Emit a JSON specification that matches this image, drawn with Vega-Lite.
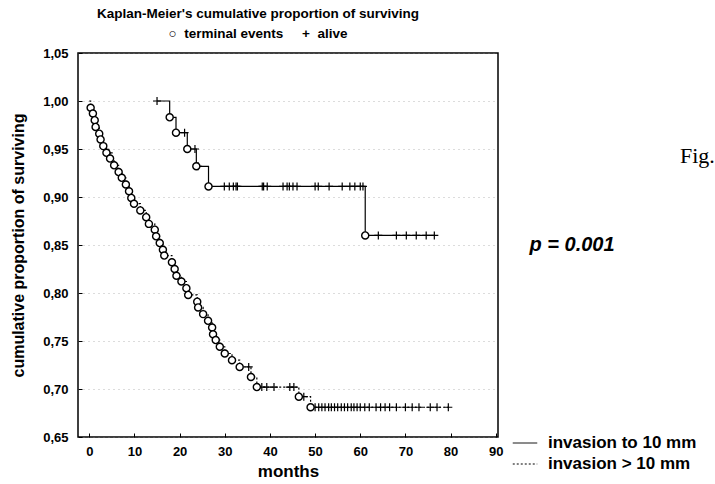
{
  "$schema": "https://vega.github.io/schema/vega-lite/v6.json",
  "width": 420,
  "height": 384,
  "autosize": {"type": "none"},
  "padding": {"left": 78, "top": 53, "right": 217, "bottom": 47},
  "background": "white",
  "config": {
    "view": {"stroke": "black", "strokeWidth": 1.5},
    "font": "Liberation Sans"
  },
  "title": {
    "text": "Kaplan-Meier's cumulative proportion of surviving",
    "subtitle": "\u25cb\u00a0 terminal events\u00a0\u00a0\u00a0\u00a0\u00a0+\u00a0 alive",
    "anchor": "middle",
    "dx": -30,
    "fontSize": 13.5,
    "fontWeight": "bold",
    "subtitleFontSize": 13.5,
    "subtitleFontWeight": "bold",
    "subtitlePadding": 6,
    "offset": 7,
    "color": "black",
    "subtitleColor": "black",
    "font": "Liberation Sans",
    "subtitleFont": "Liberation Sans"
  },
  "datasets": {
    "km": [
      {"group": "invasion to 10 mm", "month": 15.0, "surv": 1.0, "kind": "censored"},
      {"group": "invasion to 10 mm", "month": 17.8, "surv": 0.983, "kind": "event"},
      {"group": "invasion to 10 mm", "month": 19.2, "surv": 0.967, "kind": "event"},
      {"group": "invasion to 10 mm", "month": 21.1, "surv": 0.967, "kind": "censored"},
      {"group": "invasion to 10 mm", "month": 21.7, "surv": 0.95, "kind": "event"},
      {"group": "invasion to 10 mm", "month": 23.4, "surv": 0.95, "kind": "censored"},
      {"group": "invasion to 10 mm", "month": 23.7, "surv": 0.932, "kind": "event"},
      {"group": "invasion to 10 mm", "month": 24.1, "surv": 0.932, "kind": "censored"},
      {"group": "invasion to 10 mm", "month": 26.4, "surv": 0.911, "kind": "event"},
      {"group": "invasion to 10 mm", "month": 29.9, "surv": 0.911, "kind": "censored"},
      {"group": "invasion to 10 mm", "month": 31.0, "surv": 0.911, "kind": "censored"},
      {"group": "invasion to 10 mm", "month": 31.9, "surv": 0.911, "kind": "censored"},
      {"group": "invasion to 10 mm", "month": 32.5, "surv": 0.911, "kind": "censored"},
      {"group": "invasion to 10 mm", "month": 32.8, "surv": 0.911, "kind": "censored"},
      {"group": "invasion to 10 mm", "month": 38.3, "surv": 0.911, "kind": "censored"},
      {"group": "invasion to 10 mm", "month": 38.6, "surv": 0.911, "kind": "censored"},
      {"group": "invasion to 10 mm", "month": 39.4, "surv": 0.911, "kind": "censored"},
      {"group": "invasion to 10 mm", "month": 42.9, "surv": 0.911, "kind": "censored"},
      {"group": "invasion to 10 mm", "month": 43.8, "surv": 0.911, "kind": "censored"},
      {"group": "invasion to 10 mm", "month": 44.3, "surv": 0.911, "kind": "censored"},
      {"group": "invasion to 10 mm", "month": 45.1, "surv": 0.911, "kind": "censored"},
      {"group": "invasion to 10 mm", "month": 46.0, "surv": 0.911, "kind": "censored"},
      {"group": "invasion to 10 mm", "month": 50.0, "surv": 0.911, "kind": "censored"},
      {"group": "invasion to 10 mm", "month": 50.7, "surv": 0.911, "kind": "censored"},
      {"group": "invasion to 10 mm", "month": 53.1, "surv": 0.911, "kind": "censored"},
      {"group": "invasion to 10 mm", "month": 56.0, "surv": 0.911, "kind": "censored"},
      {"group": "invasion to 10 mm", "month": 57.7, "surv": 0.911, "kind": "censored"},
      {"group": "invasion to 10 mm", "month": 58.8, "surv": 0.911, "kind": "censored"},
      {"group": "invasion to 10 mm", "month": 60.0, "surv": 0.911, "kind": "censored"},
      {"group": "invasion to 10 mm", "month": 60.6, "surv": 0.911, "kind": "censored"},
      {"group": "invasion to 10 mm", "month": 61.1, "surv": 0.86, "kind": "event"},
      {"group": "invasion to 10 mm", "month": 64.0, "surv": 0.86, "kind": "censored"},
      {"group": "invasion to 10 mm", "month": 68.0, "surv": 0.86, "kind": "censored"},
      {"group": "invasion to 10 mm", "month": 70.2, "surv": 0.86, "kind": "censored"},
      {"group": "invasion to 10 mm", "month": 72.4, "surv": 0.86, "kind": "censored"},
      {"group": "invasion to 10 mm", "month": 74.6, "surv": 0.86, "kind": "censored"},
      {"group": "invasion to 10 mm", "month": 76.4, "surv": 0.86, "kind": "censored"},

      {"group": "invasion > 10 mm", "month": 0.0, "surv": 1.0, "kind": "start"},
      {"group": "invasion > 10 mm", "month": 0.3, "surv": 0.993, "kind": "event"},
      {"group": "invasion > 10 mm", "month": 0.8, "surv": 0.987, "kind": "event"},
      {"group": "invasion > 10 mm", "month": 1.2, "surv": 0.98, "kind": "event"},
      {"group": "invasion > 10 mm", "month": 1.4, "surv": 0.973, "kind": "event"},
      {"group": "invasion > 10 mm", "month": 2.2, "surv": 0.966, "kind": "event"},
      {"group": "invasion > 10 mm", "month": 2.5, "surv": 0.96, "kind": "event"},
      {"group": "invasion > 10 mm", "month": 3.1, "surv": 0.953, "kind": "event"},
      {"group": "invasion > 10 mm", "month": 3.8, "surv": 0.946, "kind": "event"},
      {"group": "invasion > 10 mm", "month": 4.3, "surv": 0.946, "kind": "censored"},
      {"group": "invasion > 10 mm", "month": 4.6, "surv": 0.94, "kind": "event"},
      {"group": "invasion > 10 mm", "month": 5.5, "surv": 0.933, "kind": "event"},
      {"group": "invasion > 10 mm", "month": 6.5, "surv": 0.926, "kind": "event"},
      {"group": "invasion > 10 mm", "month": 7.2, "surv": 0.92, "kind": "event"},
      {"group": "invasion > 10 mm", "month": 8.1, "surv": 0.913, "kind": "event"},
      {"group": "invasion > 10 mm", "month": 8.8, "surv": 0.906, "kind": "event"},
      {"group": "invasion > 10 mm", "month": 9.3, "surv": 0.899, "kind": "event"},
      {"group": "invasion > 10 mm", "month": 9.9, "surv": 0.893, "kind": "event"},
      {"group": "invasion > 10 mm", "month": 11.3, "surv": 0.886, "kind": "event"},
      {"group": "invasion > 10 mm", "month": 12.6, "surv": 0.879, "kind": "event"},
      {"group": "invasion > 10 mm", "month": 13.2, "surv": 0.872, "kind": "event"},
      {"group": "invasion > 10 mm", "month": 14.5, "surv": 0.866, "kind": "event"},
      {"group": "invasion > 10 mm", "month": 14.8, "surv": 0.859, "kind": "event"},
      {"group": "invasion > 10 mm", "month": 15.6, "surv": 0.852, "kind": "event"},
      {"group": "invasion > 10 mm", "month": 16.3, "surv": 0.845, "kind": "event"},
      {"group": "invasion > 10 mm", "month": 16.6, "surv": 0.839, "kind": "event"},
      {"group": "invasion > 10 mm", "month": 18.3, "surv": 0.832, "kind": "event"},
      {"group": "invasion > 10 mm", "month": 18.9, "surv": 0.825, "kind": "event"},
      {"group": "invasion > 10 mm", "month": 19.3, "surv": 0.818, "kind": "event"},
      {"group": "invasion > 10 mm", "month": 20.4, "surv": 0.812, "kind": "event"},
      {"group": "invasion > 10 mm", "month": 21.5, "surv": 0.805, "kind": "event"},
      {"group": "invasion > 10 mm", "month": 21.9, "surv": 0.798, "kind": "event"},
      {"group": "invasion > 10 mm", "month": 23.9, "surv": 0.791, "kind": "event"},
      {"group": "invasion > 10 mm", "month": 24.1, "surv": 0.785, "kind": "event"},
      {"group": "invasion > 10 mm", "month": 25.2, "surv": 0.778, "kind": "event"},
      {"group": "invasion > 10 mm", "month": 26.3, "surv": 0.771, "kind": "event"},
      {"group": "invasion > 10 mm", "month": 27.2, "surv": 0.764, "kind": "event"},
      {"group": "invasion > 10 mm", "month": 27.4, "surv": 0.757, "kind": "event"},
      {"group": "invasion > 10 mm", "month": 28.0, "surv": 0.751, "kind": "event"},
      {"group": "invasion > 10 mm", "month": 28.9, "surv": 0.744, "kind": "event"},
      {"group": "invasion > 10 mm", "month": 30.0, "surv": 0.737, "kind": "event"},
      {"group": "invasion > 10 mm", "month": 31.6, "surv": 0.73, "kind": "event"},
      {"group": "invasion > 10 mm", "month": 33.3, "surv": 0.723, "kind": "event"},
      {"group": "invasion > 10 mm", "month": 35.3, "surv": 0.723, "kind": "censored"},
      {"group": "invasion > 10 mm", "month": 35.8, "surv": 0.7125, "kind": "event"},
      {"group": "invasion > 10 mm", "month": 37.1, "surv": 0.702, "kind": "event"},
      {"group": "invasion > 10 mm", "month": 38.2, "surv": 0.702, "kind": "censored"},
      {"group": "invasion > 10 mm", "month": 39.3, "surv": 0.702, "kind": "censored"},
      {"group": "invasion > 10 mm", "month": 40.9, "surv": 0.702, "kind": "censored"},
      {"group": "invasion > 10 mm", "month": 44.4, "surv": 0.702, "kind": "censored"},
      {"group": "invasion > 10 mm", "month": 45.3, "surv": 0.702, "kind": "censored"},
      {"group": "invasion > 10 mm", "month": 46.4, "surv": 0.692, "kind": "event"},
      {"group": "invasion > 10 mm", "month": 47.5, "surv": 0.692, "kind": "censored"},
      {"group": "invasion > 10 mm", "month": 49.0, "surv": 0.681, "kind": "event"},
      {"group": "invasion > 10 mm", "month": 50.0, "surv": 0.681, "kind": "censored"},
      {"group": "invasion > 10 mm", "month": 50.8, "surv": 0.681, "kind": "censored"},
      {"group": "invasion > 10 mm", "month": 51.5, "surv": 0.681, "kind": "censored"},
      {"group": "invasion > 10 mm", "month": 52.2, "surv": 0.681, "kind": "censored"},
      {"group": "invasion > 10 mm", "month": 53.0, "surv": 0.681, "kind": "censored"},
      {"group": "invasion > 10 mm", "month": 53.6, "surv": 0.681, "kind": "censored"},
      {"group": "invasion > 10 mm", "month": 54.3, "surv": 0.681, "kind": "censored"},
      {"group": "invasion > 10 mm", "month": 55.0, "surv": 0.681, "kind": "censored"},
      {"group": "invasion > 10 mm", "month": 55.8, "surv": 0.681, "kind": "censored"},
      {"group": "invasion > 10 mm", "month": 56.5, "surv": 0.681, "kind": "censored"},
      {"group": "invasion > 10 mm", "month": 57.2, "surv": 0.681, "kind": "censored"},
      {"group": "invasion > 10 mm", "month": 58.0, "surv": 0.681, "kind": "censored"},
      {"group": "invasion > 10 mm", "month": 58.6, "surv": 0.681, "kind": "censored"},
      {"group": "invasion > 10 mm", "month": 59.3, "surv": 0.681, "kind": "censored"},
      {"group": "invasion > 10 mm", "month": 60.0, "surv": 0.681, "kind": "censored"},
      {"group": "invasion > 10 mm", "month": 61.0, "surv": 0.681, "kind": "censored"},
      {"group": "invasion > 10 mm", "month": 62.0, "surv": 0.681, "kind": "censored"},
      {"group": "invasion > 10 mm", "month": 63.5, "surv": 0.681, "kind": "censored"},
      {"group": "invasion > 10 mm", "month": 64.5, "surv": 0.681, "kind": "censored"},
      {"group": "invasion > 10 mm", "month": 65.5, "surv": 0.681, "kind": "censored"},
      {"group": "invasion > 10 mm", "month": 66.5, "surv": 0.681, "kind": "censored"},
      {"group": "invasion > 10 mm", "month": 68.0, "surv": 0.681, "kind": "censored"},
      {"group": "invasion > 10 mm", "month": 70.0, "surv": 0.681, "kind": "censored"},
      {"group": "invasion > 10 mm", "month": 71.5, "surv": 0.681, "kind": "censored"},
      {"group": "invasion > 10 mm", "month": 73.0, "surv": 0.681, "kind": "censored"},
      {"group": "invasion > 10 mm", "month": 75.5, "surv": 0.681, "kind": "censored"},
      {"group": "invasion > 10 mm", "month": 77.0, "surv": 0.681, "kind": "censored"},
      {"group": "invasion > 10 mm", "month": 79.5, "surv": 0.681, "kind": "censored"}
    ],
    "notes": [
      {"label": "p = 0.001", "month": 106.9, "surv": 0.85, "role": "p"},
      {"label": "Fig.", "month": 130.8, "surv": 0.943, "role": "fig"}
    ]
  },
  "encoding": {
    "x": {
      "field": "month",
      "type": "quantitative",
      "scale": {"domain": [-2.5, 90.5], "nice": false, "zero": false},
      "axis": {
        "title": "months",
        "values": [0, 10, 20, 30, 40, 50, 60, 70, 80, 90],
        "titleFontSize": 17,
        "titleFontWeight": "bold",
        "titleColor": "black",
        "titlePadding": 5,
        "labelFontSize": 13,
        "labelFontWeight": "bold",
        "labelColor": "black",
        "domain": false,
        "tickColor": "black",
        "tickSize": -4,
        "labelPadding": 12,
        "grid": false
      }
    },
    "y": {
      "field": "surv",
      "type": "quantitative",
      "scale": {"domain": [0.65, 1.05], "nice": false, "zero": false},
      "axis": {
        "title": "cumulative proportion of surviving",
        "values": [0.65, 0.7, 0.75, 0.8, 0.85, 0.9, 0.95, 1.0, 1.05],
        "labelExpr": "replace(format(datum.value, '.2f'), '.', ',')",
        "titleFontSize": 16,
        "titleFontWeight": "bold",
        "titleColor": "black",
        "titlePadding": 16,
        "labelFontSize": 13,
        "labelFontWeight": "bold",
        "labelColor": "black",
        "domain": false,
        "tickColor": "black",
        "tickSize": -4,
        "labelPadding": 14,
        "grid": true,
        "gridColor": "#888888",
        "gridDash": [1, 4],
        "gridOpacity": 0.6
      }
    }
  },
  "layer": [
    {
      "data": {"name": "km"},
      "mark": {"type": "line", "interpolate": "step-after", "color": "black", "strokeWidth": 1.2},
      "encoding": {
        "strokeDash": {
          "field": "group",
          "type": "nominal",
          "scale": {"domain": ["invasion to 10 mm", "invasion > 10 mm"], "range": [[1, 0], [2, 2]]},
          "legend": {
            "title": null,
            "orient": "none",
            "legendX": 434,
            "legendY": 377,
            "symbolType": "stroke",
            "symbolStrokeColor": "black",
            "symbolStrokeWidth": 1,
            "symbolSize": 600,
            "labelFontSize": 17,
            "labelFontWeight": "bold",
            "labelColor": "black",
            "labelFont": "Liberation Sans",
            "rowPadding": -4,
            "labelOffset": 10
          }
        }
      }
    },
    {
      "data": {"name": "km"},
      "transform": [{"filter": "datum.kind == 'censored'"}],
      "mark": {"type": "point", "shape": "M-1,0L1,0M0,-1L0,1", "size": 64, "color": "black", "filled": false, "strokeWidth": 1.2, "opacity": 1}
    },
    {
      "data": {"name": "km"},
      "transform": [{"filter": "datum.kind == 'event'"}],
      "mark": {"type": "point", "shape": "circle", "size": 50, "filled": true, "fill": "white", "stroke": "black", "strokeWidth": 1.4, "opacity": 1}
    },
    {
      "data": {"name": "notes"},
      "transform": [{"filter": "datum.role == 'p'"}],
      "mark": {"type": "text", "font": "Liberation Sans", "fontSize": 20, "fontWeight": "bold", "fontStyle": "italic", "align": "center", "baseline": "middle", "color": "black"},
      "encoding": {"text": {"field": "label"}}
    },
    {
      "data": {"name": "notes"},
      "transform": [{"filter": "datum.role == 'fig'"}],
      "mark": {"type": "text", "font": "Liberation Serif", "fontSize": 22, "align": "left", "baseline": "middle", "color": "black"},
      "encoding": {"text": {"field": "label"}}
    }
  ]
}
